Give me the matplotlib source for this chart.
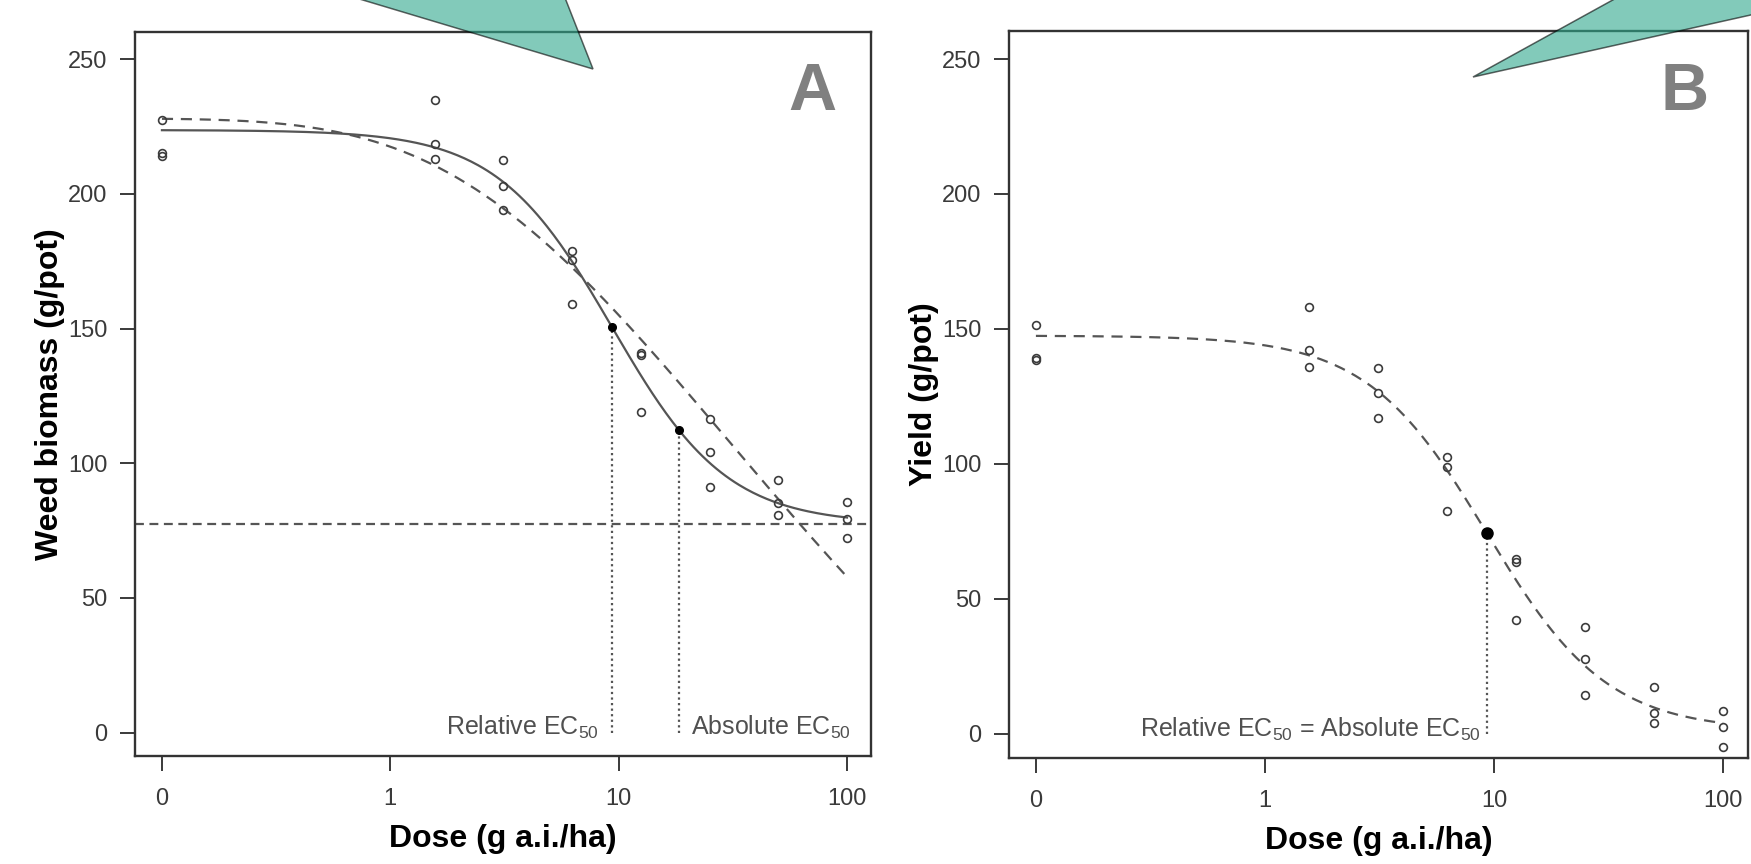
import numpy as np
import matplotlib
matplotlib.use("Agg")
import matplotlib.pyplot as plt
from matplotlib.patches import Polygon

plt.rcParams['font.family'] = ['Liberation Sans', 'DejaVu Sans']
plt.rcParams['mathtext.fontset'] = 'custom'
plt.rcParams['mathtext.rm'] = 'Liberation Sans'
plt.rcParams['mathtext.it'] = 'Liberation Sans'

# doses (g a.i./ha), 3 pots per dose; dose 0 is drawn at the axis break point
doses = [0, 1.5625, 3.125, 6.25, 12.5, 25, 50, 100]
break_point = 0.1

biomass = [
    [227.6, 215.2, 214.0],
    [234.8, 218.5, 213.0],
    [212.5, 203.1, 194.0],
    [178.9, 175.4, 159.1],
    [141.0, 140.2, 118.9],
    [116.4, 104.3, 91.3],
    [93.8, 85.1, 80.8],
    [85.5, 79.3, 72.2],
]
yield_ = [
    [151.5, 139.3, 138.3],
    [158.0, 142.1, 136.0],
    [135.4, 126.2, 116.9],
    [102.4, 99.0, 82.5],
    [64.6, 63.6, 42.1],
    [39.7, 27.6, 14.5],
    [17.2, 7.8, 4.1],
    [8.5, 2.4, -4.8],
]

# fitted dose-response parameters (b, c, d, e)
fit_a_ll4 = (1.72, 77.4, 223.7, 9.35)      # solid, log-logistic
fit_a_w2 = (-0.36, -100.0, 228.0, 31.0)    # dashed, Weibull type 2
fit_b_ll4 = (1.65, 1.1, 147.5, 9.31)
rel_ec50_a = 9.35
abs_ec50_a = 18.4
ec50_b = 9.31

x_ticks = [0.1, 1, 10, 100]
x_ticklabels = ['0', '1', '10', '100']
y_ticks = [0, 50, 100, 150, 200, 250]


def ll4(x, p):
    b, c, d, e = p
    return c + (d - c) / (1 + (x / e) ** b)


def w2(x, p):
    b, c, d, e = p
    return c + (d - c) * (1 - np.exp(-np.exp(b * (np.log(x) - np.log(e)))))


W, H = 1751, 864
fig = plt.figure(figsize=(W / 100, H / 100), dpi=100)

grey = '#555555'
tick_grey = '#3a3a3a'


def frame(left, right, top, bottom):
    return fig.add_axes([left / W, 1 - bottom / H, (right - left) / W, (bottom - top) / H])


def style(ax, xlim, ylim, ylabel, letter, letter_x):
    ax.set_xscale('log')
    ax.set_xlim(*xlim)
    ax.set_ylim(*ylim)
    ax.set_xticks(x_ticks)
    ax.set_xticklabels(x_ticklabels)
    ax.minorticks_off()
    ax.set_yticks(y_ticks)
    ax.tick_params(direction='out', length=11, width=1.4, colors=tick_grey,
                   labelsize=17, pad=9)
    ax.tick_params(axis='x', pad=12)
    for s in ax.spines.values():
        s.set_color('#333333')
        s.set_linewidth(1.7)
    ax.set_xlabel('Dose (g a.i./ha)', fontsize=23, fontweight='bold', labelpad=10)
    ax.set_ylabel(ylabel, fontsize=23, fontweight='bold', labelpad=2)
    ax.text(letter_x, 0.958, letter, transform=ax.transAxes, ha='right', va='top',
            fontsize=48, fontweight='bold', color='#808080')


def points(ax, values):
    for dose, reps in zip(doses, values):
        xd = break_point if dose == 0 else dose
        ax.plot([xd] * len(reps), reps, 'o', ms=5.6, mfc='none', mec='#3c3c3c',
                mew=1.2, zorder=4)


xs = np.logspace(np.log10(break_point), 2, 300)

# panel A
axa = frame(135, 871, 32, 756)
style(axa, (10 ** -1.118, 10 ** 2.105), (-8.7, 260.1), 'Weed biomass (g/pot)', 'A', 0.953)
points(axa, biomass)
axa.plot(xs, ll4(xs, fit_a_ll4), color=grey, lw=1.6, zorder=3)
axa.plot(xs, w2(xs, fit_a_w2), color=grey, lw=1.6, ls=(0, (5, 3.5)), zorder=3)
axa.axhline(fit_a_ll4[1], color=grey, lw=1.6, ls=(0, (4, 2.5)), zorder=2)
for xe in (rel_ec50_a, abs_ec50_a):
    ye = ll4(xe, fit_a_ll4)
    axa.plot([xe, xe], [0, ye], color=grey, lw=1.6, ls=(0, (1, 1.5)), zorder=2)
    axa.plot(xe, ye, 'o', ms=5.5, color='black', zorder=5)
axa.text(rel_ec50_a / 1.14, -1, 'Relative EC$_{50}$', ha='right', va='baseline',
         fontsize=18, color='#505050')
axa.text(abs_ec50_a * 1.13, -1, 'Absolute EC$_{50}$', ha='left', va='baseline',
         fontsize=18, color='#505050')

# panel B
axb = frame(1009, 1748, 31, 758)
style(axb, (10 ** -1.1175, 10 ** 2.109), (-9.0, 260.4), 'Yield (g/pot)', 'B', 0.947)
points(axb, yield_)
axb.plot(xs, ll4(xs, fit_b_ll4), color=grey, lw=1.6, ls=(0, (5, 3.5)), zorder=3)
yb = ll4(ec50_b, fit_b_ll4)
axb.plot([ec50_b, ec50_b], [0, yb], color=grey, lw=1.6, ls=(0, (1, 1.5)), zorder=2)
axb.plot(ec50_b, yb, 'o', ms=8, color='black', zorder=5)
axb.text(ec50_b / 1.06, -1, 'Relative EC$_{50}$ = Absolute EC$_{50}$', ha='right',
         va='baseline', fontsize=18, color='#505050')

# teal callout wedges on top, in figure pixels (y measured from top)
wedge_a = [(593, 69), (296, -20), (558, -20)]
wedge_b = [(1473, 77), (1649, -20), (1800, -20), (1800, 4)]
for pts in (wedge_a, wedge_b):
    poly = Polygon([(x / W, 1 - y / H) for x, y in pts], closed=True,
                   transform=fig.transFigure, facecolor='#2fa88c', alpha=0.6,
                   edgecolor='black', lw=1.1, zorder=10)
    fig.patches.append(poly)

fig.savefig('out.png', dpi=100)
